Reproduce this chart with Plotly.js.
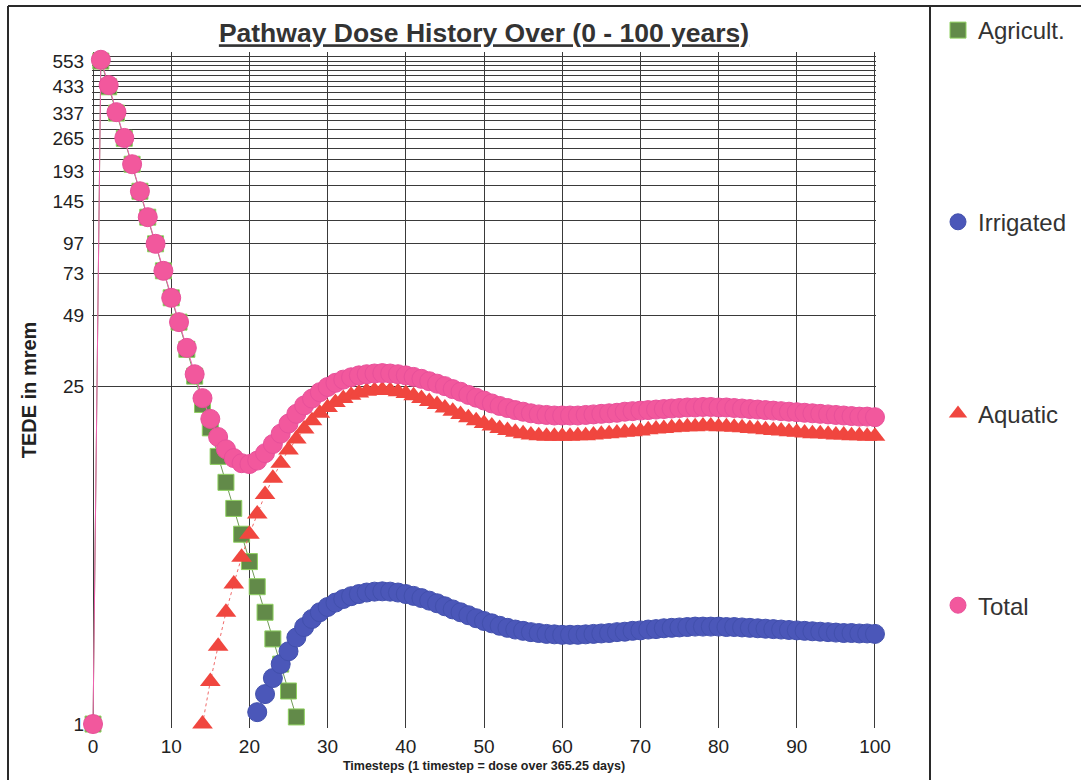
<!DOCTYPE html>
<html>
<head>
<meta charset="utf-8">
<script src="https://cdn.plot.ly/plotly-3.0.1.min.js"></script>
<style>html,body{margin:0;padding:0;background:#fff;}#chart{width:1081px;height:780px;}</style>
</head>
<body>
<div id="chart"></div>
<script>
// ---- data ----
const agricultT = [0,1,2,3,4,5,6,7,8,9,10,11,12,13,14,15,16,17,18,19,20,21,22,23,24,25,26];
const agricultV = [1,553,433,337,265,207,160,125,97,75,58,46,35.5,27.5,21,16.8,12.8,10.0,7.8,6.1,4.7,3.7,2.9,2.25,1.77,1.37,1.07];

const irrigatedT0 = 21;
const irrigatedV = [1.12,1.33,1.55,1.77,2.00,2.28,2.52,2.72,2.90,3.05,
  3.18,3.29,3.38,3.45,3.50,3.53,3.54,3.53,3.50,3.45,
  3.39,3.32,3.24,3.16,3.07,2.98,2.90,2.82,2.74,2.67,
  2.61,2.55,2.50,2.46,2.43,2.40,2.38,2.36,2.35,2.34,
  2.34,2.34,2.35,2.36,2.37,2.38,2.40,2.41,2.43,2.44,
  2.46,2.47,2.49,2.50,2.51,2.52,2.53,2.53,2.53,2.53,
  2.52,2.52,2.51,2.50,2.49,2.48,2.47,2.46,2.45,2.44,
  2.43,2.42,2.41,2.40,2.39,2.38,2.38,2.37,2.37,2.36];

const aquaticT0 = 14;
const aquaticV = [1.0,1.5,2.1,2.9,3.8,4.9,6.1,7.4,8.9,10.4,
  12.0,13.6,15.1,16.6,18.0,19.3,20.4,21.4,22.2,22.9,
  23.4,23.8,24.0,24.1,24.0,23.7,23.3,22.8,22.2,21.6,
  21.0,20.3,19.7,19.1,18.5,18.0,17.5,17.1,16.7,16.4,
  16.1,15.9,15.7,15.6,15.5,15.5,15.5,15.5,15.6,15.6,
  15.7,15.8,15.9,16.0,16.1,16.2,16.3,16.5,16.6,16.7,
  16.8,16.9,17.0,17.0,17.1,17.1,17.0,17.0,16.9,16.8,
  16.7,16.6,16.5,16.4,16.3,16.2,16.1,16.0,15.9,15.9,
  15.8,15.7,15.7,15.6,15.6,15.5,15.5];

const totalT0 = 0;
const totalV = [1,560,440,340,266,207,160,125,97,75,
  58,46,36,28,22.3,18.3,15.4,13.7,12.6,12.0,
  11.9,12.3,13.2,14.4,15.9,17.5,19.2,20.8,22.2,23.6,
  24.8,25.8,26.6,27.2,27.7,28.0,28.2,28.3,28.2,28.0,
  27.7,27.3,26.8,26.2,25.6,25.0,24.3,23.7,23.0,22.4,
  21.8,21.2,20.7,20.3,19.9,19.6,19.3,19.1,19.0,18.9,
  18.9,18.9,18.9,19.0,19.1,19.2,19.3,19.4,19.6,19.7,
  19.8,19.9,20.0,20.1,20.2,20.3,20.4,20.4,20.5,20.5,
  20.4,20.4,20.3,20.2,20.1,20.0,19.9,19.8,19.7,19.6,
  19.5,19.4,19.3,19.2,19.1,19.0,18.9,18.8,18.7,18.7,18.6];

const seriesNames = ['Agricult.','Irrigated','Aquatic','Total'];
const yGridVals = Array.from({length:25}, (_, k) => 25 + 24*k);   // 25, 49, ... 601
const yLabelVals = [1,25,49,73,97,145,193,265,337,433,553];
const xTickVals = [0,10,20,30,40,50,60,70,80,90,100];

const titleText = 'Pathway Dose History Over (0 - 100 years)';
const yTitleText = 'TEDE in mrem';
const xTitleText = 'Timesteps (1 timestep = dose over 365.25 days)';

// ---- build ----
const seq = (t0, n) => Array.from({length:n}, (_, i) => t0 + i);
const FONT = 'Arial, "Liberation Sans", sans-serif';

const styles = [
  {line:{color:'#6f9a55', width:1},
   marker:{symbol:'square', size:16, color:'#628a49', line:{color:'#8fd060', width:1}}},
  {line:{color:'#4a56b8', width:1},
   marker:{symbol:'circle', size:19, color:'#4b57b9', line:{color:'#4250ad', width:1}}},
  {line:{color:'#f06a6a', width:1, dash:'dot'},
   marker:{symbol:'triangle-up', size:18, color:'#f0463f', line:{color:'#f0463f', width:0}}},
  {line:{color:'#f060b0', width:1},
   marker:{symbol:'circle', size:19, color:'#f2589d', line:{color:'#e8509a', width:1}}}
];
const xs = [agricultT, seq(irrigatedT0, irrigatedV.length), seq(aquaticT0, aquaticV.length), seq(totalT0, totalV.length)];
const ys = [agricultV, irrigatedV, aquaticV, totalV];

const traces = [];
for (let i = 0; i < 4; i++) {
  traces.push({x: xs[i], y: ys[i], type:'scatter', mode:'lines', line: styles[i].line,
               showlegend:false, hoverinfo:'skip', legendgroup:'g'+i, cliponaxis:false});
  traces.push({x: xs[i], y: ys[i], name: seriesNames[i], type:'scatter', mode:'markers',
               marker: styles[i].marker, legendgroup:'g'+i, cliponaxis:false});
}
// empty helper trace so the overlaying label axis (value "1") is drawn
traces.push({x:[], y:[], yaxis:'y2', type:'scatter', mode:'markers', showlegend:false, hoverinfo:'skip'});

const M = {l:92, r:205, t:52, b:52};
const W = 1081, H = 780;
const PW = W - M.l - M.r, PH = H - M.t - M.b;
const px = v => (v - M.l) / PW;
const py = v => 1 - (v - M.t) / PH;

const frameLine = {color:'#2a2a2a', width:2};
const shapes = [
  {type:'line', xref:'paper', yref:'paper', x0:px(8), x1:px(1090), y0:py(6), y1:py(6), line:frameLine},
  {type:'line', xref:'paper', yref:'paper', x0:px(8), x1:px(8), y0:py(6), y1:py(800), line:frameLine},
  {type:'line', xref:'paper', yref:'paper', x0:px(930), x1:px(930), y0:py(6), y1:py(800), line:frameLine}
];

const yRange = [Math.log10(0.963), Math.log10(603)];
const tickFont = {family:FONT, size:19, color:'#222'};

const layout = {
  width: W, height: H,
  margin: M,
  paper_bgcolor:'#ffffff', plot_bgcolor:'#ffffff',
  font:{family:FONT, color:'#222'},
  title:{text:'<b>'+titleText+'</b>', x:0.5, xref:'paper', xanchor:'center', y:1-33/H, yref:'container', yanchor:'middle',
         font:{family:FONT, size:26.5, color:'#333', lineposition:'under'}},
  xaxis:{
    range:[-0.13, 100.13], tickvals:xTickVals, ticktext:xTickVals.map(String),
    showgrid:true, gridcolor:'#3a3a3a', gridwidth:1, zeroline:false, showline:false,
    ticks:'outside', ticklen:1, tickcolor:'rgba(0,0,0,0)',
    tickfont:{family:FONT, size:19, color:'#222'},
    title:{text:'<b>'+xTitleText+'</b>', font:{family:FONT, size:12.5, color:'#222'}, standoff:5}
  },
  yaxis:{
    type:'log', range:yRange,
    tickvals:yGridVals, ticktext:yGridVals.map(v => yLabelVals.includes(v) ? String(v) : ''),
    showgrid:true, gridcolor:'#3a3a3a', gridwidth:1, zeroline:false, showline:false,
    ticks:'outside', ticklen:3, tickcolor:'rgba(0,0,0,0)',
    tickfont:tickFont,
    title:{text:'<b>'+yTitleText+'</b>', font:{family:FONT, size:20, color:'#222'}, standoff:10}
  },
  yaxis2:{
    type:'log', range:yRange, overlaying:'y', side:'left', anchor:'x',
    tickvals:[yLabelVals[0]], ticktext:[String(yLabelVals[0])],
    showgrid:false, zeroline:false, showline:false,
    ticks:'outside', ticklen:3, tickcolor:'rgba(0,0,0,0)',
    tickfont:tickFont
  },
  showlegend:true,
  legend:{xref:'container', yref:'container', x:938/W, xanchor:'left', y:1-8/H, yanchor:'top',
          tracegroupgap:157.5, maxheight:775,
          font:{family:FONT, size:24, color:'#333'}, bgcolor:'rgba(0,0,0,0)', borderwidth:0,
          traceorder:'grouped'},
  shapes: shapes
};

Plotly.newPlot('chart', traces, layout, {displayModeBar:false, staticPlot:true});
</script>
</body>
</html>
